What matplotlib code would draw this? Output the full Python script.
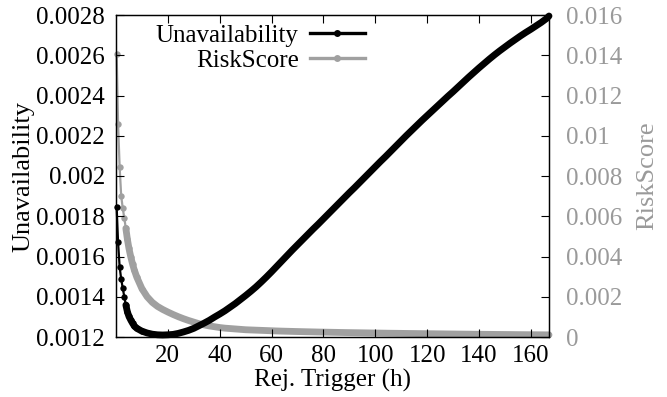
import matplotlib
matplotlib.use("Agg")
import matplotlib.pyplot as plt
from matplotlib.lines import Line2D

plt.rcParams['font.family'] = ['Liberation Serif', 'DejaVu Serif']

# Rejuvenation trigger (hours)
trigger_early = [0.25, 0.8, 1.4, 2.0, 2.6, 3.2, 3.8, 4.4, 5.0, 5.7, 6.4, 7.0]
trigger_late = list(range(8, 167, 2)) + [167]
trigger = trigger_early + trigger_late

unavail_early = [0.001847, 0.001670, 0.001548, 0.001488, 0.001443, 0.001400,
                 0.001359, 0.001325, 0.001302, 0.001284, 0.001268, 0.001256]
unavail_late = [
    0.001243, 0.001229, 0.001220, 0.001214, 0.001211, 0.001210, 0.001211, 0.001213, 0.001218, 0.001225,
    0.001233, 0.001243, 0.001256, 0.001269, 0.001283, 0.001299, 0.001314, 0.001330, 0.001348, 0.001366,
    0.001386, 0.001406, 0.001427, 0.001449, 0.001473, 0.001498, 0.001524, 0.001551, 0.001578, 0.001605,
    0.001632, 0.001658, 0.001684, 0.001710, 0.001736, 0.001761, 0.001787, 0.001813, 0.001839, 0.001865,
    0.001891, 0.001917, 0.001942, 0.001968, 0.001994, 0.002020, 0.002046, 0.002072, 0.002097, 0.002123,
    0.002149, 0.002175, 0.002201, 0.002226, 0.002251, 0.002276, 0.002300, 0.002324, 0.002348, 0.002372,
    0.002396, 0.002419, 0.002443, 0.002467, 0.002491, 0.002514, 0.002537, 0.002559, 0.002581, 0.002602,
    0.002622, 0.002641, 0.002660, 0.002678, 0.002696, 0.002713, 0.002729, 0.002746, 0.002763, 0.002782,
    0.002795]
unavailability = unavail_early + unavail_late

risk_early = [0.01406, 0.01058, 0.00845, 0.00701, 0.00640, 0.00590,
              0.00540, 0.00485, 0.00440, 0.00398, 0.00362, 0.00335]
risk_late = [
    0.00298, 0.00240, 0.00200, 0.00172, 0.00152, 0.00137, 0.00124, 0.00112, 0.00101, 0.00091,
    0.00082, 0.00074, 0.00066, 0.00060, 0.00055, 0.00051, 0.00047, 0.00044, 0.00042, 0.00040,
    0.00038, 0.00036, 0.00035, 0.00034, 0.00033, 0.00032, 0.00031, 0.000300, 0.000292, 0.000285,
    0.000278, 0.000271, 0.000265, 0.000259, 0.000253, 0.000247, 0.000242, 0.000237, 0.000232, 0.000227,
    0.000222, 0.000218, 0.000214, 0.000210, 0.000206, 0.000202, 0.000198, 0.000194, 0.000190, 0.000186,
    0.000183, 0.000180, 0.000176, 0.000173, 0.000170, 0.000167, 0.000164, 0.000161, 0.000158, 0.000155,
    0.000152, 0.000149, 0.000146, 0.000143, 0.000141, 0.000138, 0.000136, 0.000133, 0.000131, 0.000128,
    0.000126, 0.000124, 0.000122, 0.000119, 0.000117, 0.000115, 0.000113, 0.000111, 0.000109, 0.000107,
    0.000106]
risk_score = risk_early + risk_late

x_ticks = [20, 40, 60, 80, 100, 120, 140, 160]
left_ticks = [0.0012, 0.0014, 0.0016, 0.0018, 0.002, 0.0022, 0.0024, 0.0026, 0.0028]
left_labels = ['0.0012', '0.0014', '0.0016', '0.0018', '0.002', '0.0022', '0.0024', '0.0026', '0.0028']
right_ticks = [0, 0.002, 0.004, 0.006, 0.008, 0.01, 0.012, 0.014, 0.016]
right_labels = ['0', '0.002', '0.004', '0.006', '0.008', '0.01', '0.012', '0.014', '0.016']

BLACK = '#000000'
GRAY = '#a0a0a0'
GRAY_TXT = '#9a9a9a'
FS = 18
LW = 4.9
MS = 4.6
k = 6  # thick band starts here; thin line + separate dots before
dot_idx = list(range(len(trigger_early) + 2))

fig = plt.figure(figsize=(6.67, 3.97), dpi=100)
ax = fig.add_axes([116 / 667, 1 - 337 / 397, (549 - 116) / 667, (337 - 15) / 397])
ax2 = ax.twinx()

# RiskScore on right axis
ax2.plot(trigger[k:], risk_score[k:], '-', color=GRAY, lw=LW,
         solid_capstyle='round', solid_joinstyle='round', clip_on=False)
ax2.plot(trigger[:k + 1], risk_score[:k + 1], '-', color=GRAY, lw=1.6, clip_on=False)
ax2.plot(trigger, risk_score, 'o', color=GRAY, ms=MS, mew=0, clip_on=False,
         markevery=dot_idx)
# Unavailability on left axis (drawn above)
ax.set_zorder(ax2.get_zorder() + 1)
ax.patch.set_visible(False)
ax.plot(trigger[k:], unavailability[k:], '-', color=BLACK, lw=LW,
        solid_capstyle='round', solid_joinstyle='round', clip_on=False)
ax.plot(trigger[:k + 1], unavailability[:k + 1], '-', color=BLACK, lw=1.6, clip_on=False)
ax.plot(trigger, unavailability, 'o', color=BLACK, ms=MS, mew=0, clip_on=False,
        markevery=dot_idx)

ax.set_xlim(0, 167)
ax.set_ylim(0.0012, 0.0028)
ax2.set_ylim(0, 0.016)

ax.set_xticks(x_ticks)
ax.set_xticklabels([str(t) for t in x_ticks])
ax.set_yticks(left_ticks)
ax.set_yticklabels(left_labels)
ax2.set_yticks(right_ticks)
ax2.set_yticklabels(right_labels)

ax.tick_params(axis='both', direction='in', length=6, width=0.8, labelsize=FS, top=True)
ax.tick_params(axis='x', pad=6)
ax.tick_params(axis='y', pad=8, right=False)
ax2.tick_params(axis='y', direction='in', length=6, width=0.8, labelsize=FS, pad=12,
                labelcolor=GRAY_TXT, color=BLACK)

for a in (ax, ax2):
    for s in a.spines.values():
        s.set_linewidth(0.9)
        s.set_color('black')

ax.set_xlabel('Rej. Trigger (h)', fontsize=FS, labelpad=1)
ax.set_ylabel('Unavailability', fontsize=FS + 1, labelpad=1)
ax2.set_ylabel('RiskScore', fontsize=FS + 1, color=GRAY_TXT, labelpad=10)

handles = [Line2D([], [], color=BLACK, lw=2.4, marker='o', ms=5, mew=0),
           Line2D([], [], color=GRAY, lw=2.4, marker='o', ms=5, mew=0)]
ax.legend(handles, ['Unavailability', 'RiskScore'], loc='upper right',
          bbox_to_anchor=(0.575, 0.97), frameon=False, markerfirst=False,
          numpoints=1, handlelength=2.2, handletextpad=0.45, labelspacing=0.08,
          fontsize=FS, borderaxespad=0.0, borderpad=0.0)

fig.savefig('out.png', dpi=100)
